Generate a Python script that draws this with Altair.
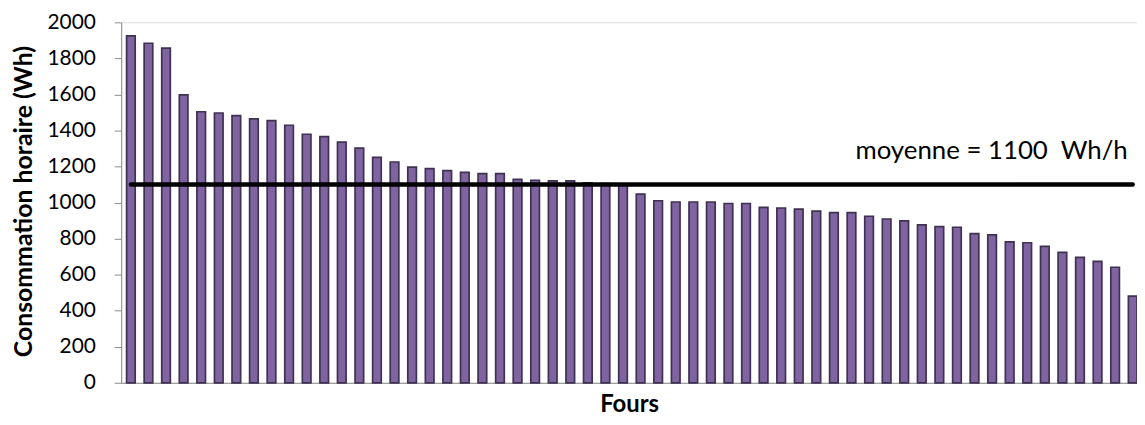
import altair as alt
import pandas as pd

fours = [f"F{i:02d}" for i in range(1, 59)]
consommation = [
    1925, 1884, 1857, 1598, 1504, 1497, 1482, 1464, 1455, 1429,
    1379, 1366, 1335, 1302, 1251, 1225, 1197, 1188, 1177, 1168,
    1161, 1161, 1129, 1124, 1120, 1120, 1110, 1105, 1100, 1047,
    1010, 1003, 1003, 1003, 995, 995, 973, 970, 964, 953,
    944, 944, 924, 909, 898, 876, 867, 863, 828, 821,
    782, 777, 757, 724, 696, 674, 641, 481,
]
moyenne = 1100
moyenne_label = "moyenne = 1100\u00a0 Wh/h"
y_ticks = [0, 200, 400, 600, 800, 1000, 1200, 1400, 1600, 1800, 2000]

FONT = "Lato"

bars_df = pd.DataFrame({"four": fours, "conso": consommation})
line_df = pd.DataFrame({"four": [fours[0], fours[-1]], "conso": [moyenne, moyenne]})
text_df = pd.DataFrame({"four": [fours[-1]], "conso": [moyenne], "label": [moyenne_label]})

x_scale = alt.Scale(domain=fours, paddingInner=0.51, paddingOuter=0.153, align=1)
y_scale = alt.Scale(domain=[0, 2000], nice=False, zero=True)

x_axis = alt.Axis(
    title="Fours", labels=False, ticks=False, domainColor="#8C8C8C", domainWidth=1,
    titleFont=FONT, titleFontSize=24, titleFontWeight="bold", titleColor="#000000",
    titleY=22, titleBaseline="middle",
)
y_axis = alt.Axis(
    values=y_ticks, tickCount=11, format="d", labelOverlap=False, grid=False,
    title="Consommation horaire (Wh)",
    tickSize=7, tickColor="#8C8C8C", domainColor="#8C8C8C", labelPadding=19,
    labelFont=FONT, labelFontSize=21, labelColor="#000000",
    titleFont=FONT, titleFontSize=25, titleFontWeight="bold", titleColor="#000000",
    titleX=-98, titleY=180, titleBaseline="middle", titleAlign="center", titleAngle=270,
)


def x_enc():
    return alt.X("four:N", sort=None, scale=x_scale, axis=x_axis)


def y_enc():
    return alt.Y("conso:Q", scale=y_scale, axis=y_axis)


bars = alt.Chart(bars_df).mark_bar(
    fill="#8064A2", stroke="#3F3151", strokeWidth=1.7
).encode(x=x_enc(), y=y_enc())

line = alt.Chart(line_df).mark_line(
    color="#000000", strokeWidth=4.5, strokeCap="round"
).encode(x=x_enc(), y=y_enc())

text = alt.Chart(text_df).mark_text(
    align="right", baseline="middle", dx=-5, dy=-34, font=FONT, fontSize=26, color="#000000"
).encode(x=x_enc(), y=y_enc(), text="label:N")

chart = alt.layer(bars, line, text).properties(
    width=1023, height=363,
    autosize=alt.AutoSizeParams(type="none"),
    padding={"left": 114, "top": 13, "right": 0, "bottom": 33},
).configure_view(stroke=None).configure(background="white")

chart.save("out.html", embed_options={"renderer": "svg", "actions": False})
